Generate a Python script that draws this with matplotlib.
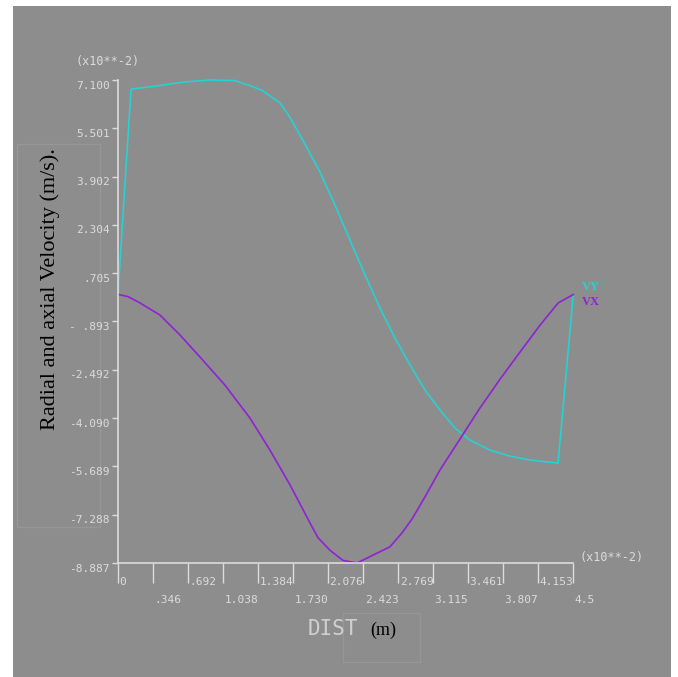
#!/usr/bin/env python
"""Radial and axial velocity along DIST, redrawn in the style of an ANSYS plot"""

import matplotlib
matplotlib.use("Agg")
import matplotlib.pyplot as plt
from matplotlib.patches import Rectangle
import matplotlib.transforms as mtransforms

# data (x10**-2)
vy_dist = [0, 0.005, 0.126, 0.334, 0.64, 0.907, 1.154, 1.33, 1.43, 1.60, 1.70, 1.846,
           1.995, 2.143, 2.291, 2.440, 2.588, 2.736, 2.885, 3.033, 3.181, 3.330,
           3.478, 3.676, 3.874, 4.072, 4.349, 4.5]
vy = [0, 0.45, 6.80, 6.88, 7.03, 7.10, 7.08, 6.88, 6.74, 6.34, 5.85, 4.98,
      4.05, 2.96, 1.80, 0.65, -0.45, -1.44, -2.33, -3.16, -3.82, -4.42,
      -4.82, -5.15, -5.35, -5.48, -5.58, 0]

vx_dist = [0, 0.097, 0.215, 0.412, 0.61, 0.808, 1.055, 1.302, 1.50, 1.698, 1.80, 1.905,
           1.975, 2.095, 2.222, 2.36, 2.42, 2.687, 2.806, 2.905, 3.033, 3.181, 3.38,
           3.578, 3.776, 3.974, 4.172, 4.35, 4.5]
vx = [0, -0.07, -0.28, -0.68, -1.34, -2.07, -3.0, -4.09, -5.15, -6.30, -6.95, -7.62,
      -8.05, -8.47, -8.80, -8.887, -8.79, -8.35, -7.89, -7.43, -6.70, -5.81, -4.78,
      -3.75, -2.80, -1.90, -1.01, -0.28, 0]

y_ticks = [7.100, 5.501, 3.902, 2.304, 0.705, -0.893, -2.492, -4.090, -5.689, -7.288, -8.887]
y_labels = ["7.100", "5.501", "3.902", "2.304", ".705", "- .893", "-2.492", "-4.090",
            "-5.689", "-7.288", "-8.887"]
x_ticks = [0, 0.346, 0.692, 1.038, 1.384, 1.730, 2.076, 2.423, 2.769, 3.115,
           3.461, 3.807, 4.153, 4.5]
x_labels = ["0", ".346", ".692", "1.038", "1.384", "1.730", "2.076", "2.423",
            "2.769", "3.115", "3.461", "3.807", "4.153", "4.5"]

W, H = 678, 677
BG = '#8d8d8d'
FG = '#dcdcdc'
CYAN = '#26d2d2'
PURPLE = '#8f22d6'
MONO = 'DejaVu Sans Mono'
SERIF = 'Liberation Serif'


def fx(px):
	return px / W


def fy(py):
	return 1 - py / H


fig = plt.figure(figsize=(W / 100, H / 100), dpi=100)
fig.patch.set_facecolor('white')
fig.patches.append(Rectangle((fx(13), 0), fx(671) - fx(13), fy(6), transform=fig.transFigure,
                             facecolor=BG, edgecolor='none', zorder=-10))
#faint boxes round the label texts
fig.patches.append(Rectangle((fx(17), fy(527)), fx(100) - fx(17), fy(144) - fy(527),
                             transform=fig.transFigure, facecolor='none',
                             edgecolor='#979797', linewidth=1, zorder=-5))
fig.patches.append(Rectangle((fx(343), fy(662)), fx(420) - fx(343), fy(613) - fy(662),
                             transform=fig.transFigure, facecolor='none',
                             edgecolor='#979797', linewidth=1, zorder=-5))

ax = fig.add_axes([fx(118.3), fy(563), fx(573.3) - fx(118.3), fy(80) - fy(563)])
ax.set_facecolor('none')
ax.set_xlim(0, 4.5)
ax.set_ylim(-8.887, 7.100)
for side in ['top', 'right']:
	ax.spines[side].set_visible(False)
for side in ['left', 'bottom']:
	ax.spines[side].set_color(FG)
	ax.spines[side].set_linewidth(1.2)

ax.plot(vy_dist, vy, color=CYAN, linewidth=1.2, clip_on=False)
ax.plot(vx_dist, vx, color=PURPLE, linewidth=1.2, clip_on=False)

#y ticks with labels slightly below the tick
ax.set_yticks(y_ticks)
ax.set_yticklabels([])
ax.tick_params(axis='y', direction='out', length=4, width=1, color=FG)
down = mtransforms.ScaledTranslation(-6 / 72, -4 / 72, fig.dpi_scale_trans)
for val, lab in zip(y_ticks, y_labels):
	ax.text(0, val, lab, transform=ax.get_yaxis_transform() + down, ha='right', va='center',
	        family=MONO, fontsize=8, color=FG)

#x ticks: long ticks, labels in two rows, left aligned at the tick
ax.set_xticks(x_ticks)
ax.set_xticklabels([])
ax.tick_params(axis='x', direction='out', length=14.4, width=1, color=FG)
for i, (val, lab) in enumerate(zip(x_ticks, x_labels)):
	dy = -19 if i % 2 == 0 else -37
	shift = mtransforms.ScaledTranslation(1 / 72, dy * 0.72 / 72, fig.dpi_scale_trans)
	ax.text(val, 0, lab, transform=ax.get_xaxis_transform() + shift, ha='left', va='center',
	        family=MONO, fontsize=8, color=FG)

fig.text(fx(75), fy(62), "(x10**-2)", family=MONO, fontsize=8.5, color=FG, va='center', ha='left')
fig.text(fx(580), fy(558), "(x10**-2)", family=MONO, fontsize=8.5, color=FG, va='center', ha='left')

#legend labels at the line ends
fig.text(fx(582), fy(287), "VY", family=SERIF, fontweight='bold', fontsize=9, color=CYAN,
         va='center', ha='left')
fig.text(fx(582), fy(302), "VX", family=SERIF, fontweight='bold', fontsize=9, color=PURPLE,
         va='center', ha='left')

fig.text(fx(50), fy(289), "Radial and axial Velocity (m/s).", family=SERIF, fontsize=16,
         color='black', rotation=90, va='center', ha='center')
fig.text(fx(308), fy(629), "DIST", family=MONO, fontsize=15, color='#d0d0d0',
         va='center', ha='left')
fig.text(fx(370), fy(630), "(m)", family=SERIF, fontsize=13, color='black',
         va='center', ha='left')

fig.savefig('out.png', dpi=100)
